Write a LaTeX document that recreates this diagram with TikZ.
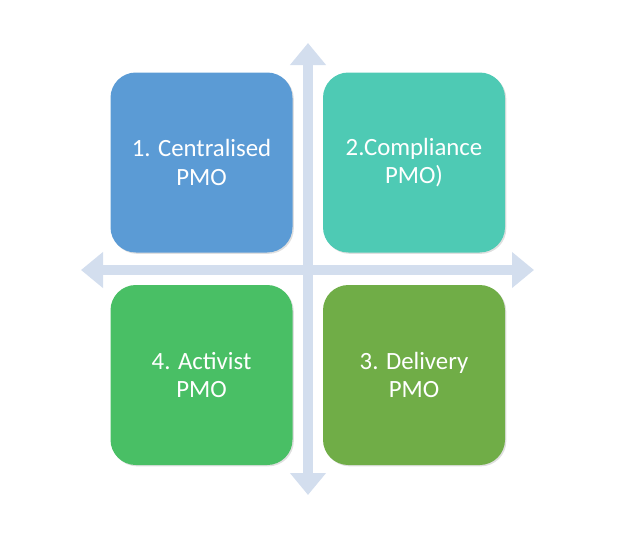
\documentclass[tikz,border=0pt]{standalone}
\usepackage{fontspec}
\setmainfont{Carlito}
\usetikzlibrary{arrows.meta,shadows}

\definecolor{pmoblue}{HTML}{5B9BD5}
\definecolor{pmoteal}{HTML}{4ECAB4}
\definecolor{pmogreen}{HTML}{49BF65}
\definecolor{pmoolive}{HTML}{70AD47}
\definecolor{axisgray}{HTML}{D3DEEE}

\begin{document}
\begin{tikzpicture}[x=0.75pt,y=-0.75pt,
  axis/.style = {draw=axisgray, line width=7.5pt,
    {Triangle[length=16.5pt,width=26pt]}-{Triangle[length=16.5pt,width=26pt]}},
  quad/.style = {rectangle, rounded corners=19pt, inner sep=0pt,
    minimum width=136.5pt, minimum height=135pt, align=center,
    text=white, font=\fontsize{18.6}{21.5}\selectfont,
    drop shadow={shadow xshift=1pt,shadow yshift=-1pt,opacity=0.25}} ]
  \useasboundingbox (0,0) rectangle (620,554);
  % the two axes
  \coordinate (top) at (308,43);
  \coordinate (bottom) at (308,495);
  \coordinate (left) at (81,270);
  \coordinate (right) at (534,270);
  \draw[axis] (bottom) -- (top);
  \draw[axis] (left) -- (right);
  % the four quadrants
  \node[quad,fill=pmoblue] (central) at (201.5,162.5) {1. Centralised\\PMO};
  \node[quad,fill=pmoteal] (compliance) at (414,162.5) {2.Compliance\\PMO)};
  \node[quad,fill=pmogreen] (activist) at (201.5,375) {4. Activist\\PMO};
  \node[quad,fill=pmoolive] (delivery) at (414,375) {3. Delivery\\PMO};
\end{tikzpicture}
\end{document}
